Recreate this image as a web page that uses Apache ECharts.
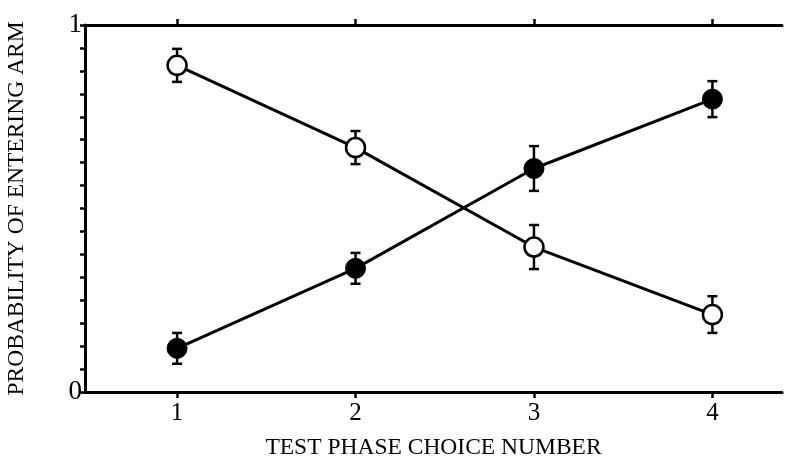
<!DOCTYPE html>
<html>
<head>
<meta charset="utf-8">
<script src="https://cdn.jsdelivr.net/npm/echarts@6/dist/echarts.min.js"></script>
<style>html,body{margin:0;padding:0;background:#fff}#c{width:797px;height:465px}</style>
</head>
<body>
<div id="c"></div>
<script>
var choices = [1, 2, 3, 4];
var openValues = [0.890, 0.666, 0.395, 0.211];
var openErr = [0.045, 0.045, 0.060, 0.050];
var filledValues = [0.119, 0.337, 0.609, 0.798];
var filledErr = [0.042, 0.042, 0.061, 0.049];
var yTickLabels = ['0', '1'];

function pairs(vals) { return choices.map(function (c, i) { return [c, vals[i]]; }); }
function errData(vals, errs) { return choices.map(function (c, i) { return [c, vals[i] - errs[i], vals[i] + errs[i]]; }); }

function errRender(params, api) {
  var x = api.value(0);
  var lo = api.coord([x, api.value(1)]);
  var hi = api.coord([x, api.value(2)]);
  var cw = 5;
  var st = { stroke: '#000', lineWidth: 2.5 };
  return {
    type: 'group',
    children: [
      { type: 'line', shape: { x1: lo[0], y1: lo[1], x2: hi[0], y2: hi[1] }, style: st },
      { type: 'line', shape: { x1: lo[0] - cw, y1: lo[1], x2: lo[0] + cw, y2: lo[1] }, style: st },
      { type: 'line', shape: { x1: hi[0] - cw, y1: hi[1], x2: hi[0] + cw, y2: hi[1] }, style: st }
    ]
  };
}

var font = 'Liberation Serif';
var chart = echarts.init(document.getElementById('c'));
chart.setOption({
  animation: false,
  backgroundColor: '#fff',
  grid: { left: 85, right: 15, top: 25, bottom: 73, containLabel: false, outerBoundsMode: 'none' },
  xAxis: [{
    type: 'value', min: 0.484, max: 4.39, interval: 1,
    position: 'bottom',
    axisLine: { show: true, lineStyle: { color: '#000', width: 3 } },
    axisTick: { show: true, length: 6, lineStyle: { color: '#000', width: 2.5 }, customValues: choices },
    axisLabel: { color: '#000', fontFamily: font, fontSize: 25, margin: 9, customValues: choices },
    splitLine: { show: false },
    name: 'TEST PHASE CHOICE NUMBER', nameLocation: 'middle', nameGap: 44,
    nameTextStyle: { color: '#000', fontFamily: font, fontSize: 23.5 }
  }, {
    type: 'value', min: 0.484, max: 4.39, interval: 1,
    position: 'top',
    axisLine: { show: true, lineStyle: { color: '#000', width: 3 } },
    axisTick: { show: true, length: 6, lineStyle: { color: '#000', width: 2.5 }, customValues: choices },
    axisLabel: { show: false },
    splitLine: { show: false }
  }],
  yAxis: {
    type: 'value', min: 0, max: 1, interval: 0.0625,
    axisLine: { show: true, lineStyle: { color: '#000', width: 3 } },
    axisTick: { show: true, length: 5, lineStyle: { color: '#000', width: 2.5 } },
    axisLabel: {
      color: '#000', fontFamily: font, fontSize: 27, margin: 3,
      formatter: function (v) { if (v === 0) return yTickLabels[0]; if (v === 1) return yTickLabels[1]; return ''; }
    },
    splitLine: { show: false },
    name: 'PROBABILITY OF ENTERING ARM', nameLocation: 'middle', nameGap: 56, nameRotate: 90,
    nameTextStyle: { color: '#000', fontFamily: font, fontSize: 23.5 }
  },
  series: [
    { type: 'custom', renderItem: errRender, data: errData(openValues, openErr), z: 1 },
    { type: 'custom', renderItem: errRender, data: errData(filledValues, filledErr), z: 1 },
    {
      type: 'line', data: pairs(openValues), symbol: 'circle', symbolSize: 19,
      lineStyle: { color: '#000', width: 3 },
      itemStyle: { color: '#fff', borderColor: '#000', borderWidth: 2.5 }, z: 3
    },
    {
      type: 'line', data: pairs(filledValues), symbol: 'circle', symbolSize: 20,
      lineStyle: { color: '#000', width: 3 },
      itemStyle: { color: '#000', borderColor: '#000', borderWidth: 1 }, z: 3
    }
  ]
});
</script>
</body>
</html>
